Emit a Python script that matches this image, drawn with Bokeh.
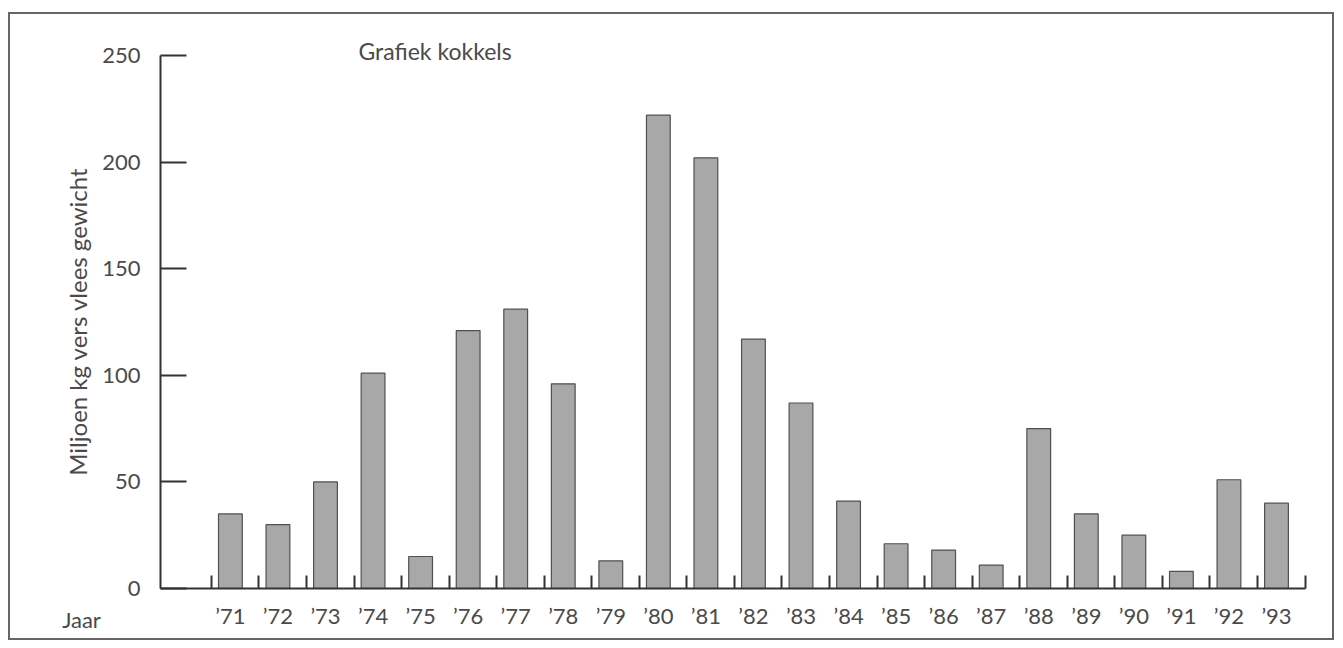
import math
from bokeh.plotting import figure
from bokeh.models import FixedTicker, Label, Range1d, ColumnDataSource
from bokeh.embed import file_html
from bokeh.resources import INLINE

years = ["’71", "’72", "’73", "’74", "’75", "’76", "’77", "’78", "’79", "’80", "’81", "’82",
         "’83", "’84", "’85", "’86", "’87", "’88", "’89", "’90", "’91", "’92", "’93"]
values = [35, 30, 50, 101, 15, 121, 131, 96, 13, 222, 202, 117, 87, 41, 21, 18, 11, 75, 35, 25, 8, 51, 40]
y_ticks = [0, 50, 100, 150, 200, 250]

FONT = "Lato"
TXT = "#4a4a4a"
LINE = "#333333"

# layout (pixel) constants
W, H = 1326, 628
ORG_X, ORG_Y = 10, 14          # canvas origin on page
AX_X, AX_Y = 160, 588          # page position of the axes corner
TOP_Y = 55                      # page y of value 250
SLOT = 47.55                    # px per category
X0 = -1.47                      # data x at the y axis
ppu = (AX_Y - TOP_Y) / y_ticks[-1]

x_start = X0 - (AX_X - ORG_X) / SLOT
x_end = x_start + W / SLOT
y_end = (AX_Y - ORG_Y) / ppu
y_start = -(ORG_Y + H - AX_Y) / ppu

def dx(px):
    return X0 + (px - AX_X) / SLOT

def dy(py):
    return (AX_Y - py) / ppu

xs = list(range(len(years)))
bounds = [x - 0.4 for x in xs] + [xs[-1] + 0.6]

src = ColumnDataSource(dict(x=xs, top=values))

p = figure(width=W, height=H, output_backend="svg", toolbar_location=None,
           x_range=Range1d(x_start, x_end), y_range=Range1d(y_start, y_end),
           min_border=0, min_border_left=0, min_border_right=0,
           min_border_top=0, min_border_bottom=0)
p.styles = {"border": "2px solid #666666", "margin-left": "8px", "margin-top": "12px"}
p.outline_line_color = None
p.xgrid.visible = False
p.ygrid.visible = False

p.vbar(x="x", top="top", bottom=0, width=0.5, source=src,
       fill_color="#a8a8a8", line_color="#505050", line_width=1.2)

# y axis
ya = p.yaxis[0]
ya.fixed_location = X0
ya.bounds = (y_ticks[0], y_ticks[-1])
ya.ticker = FixedTicker(ticks=y_ticks)
ya.major_tick_in = 26
ya.major_tick_out = 0
ya.minor_tick_in = 0
ya.minor_tick_out = 0
ya.major_tick_line_color = LINE
ya.major_tick_line_width = 2
ya.axis_line_color = LINE
ya.axis_line_width = 2
ya.major_label_standoff = 20
ya.major_label_text_font = FONT
ya.major_label_text_font_size = "22px"
ya.major_label_text_color = TXT

# x axis
xa = p.xaxis[0]
xa.fixed_location = 0
xa.bounds = (X0, bounds[-1])
xa.ticker = FixedTicker(ticks=xs, minor_ticks=bounds)
xa.major_label_overrides = {x: y for x, y in zip(xs, years)}
xa.major_tick_in = 0
xa.major_tick_out = 0
xa.minor_tick_in = 13
xa.minor_tick_out = 0
xa.minor_tick_line_color = LINE
xa.minor_tick_line_width = 2
xa.axis_line_color = LINE
xa.axis_line_width = 2
xa.major_label_standoff = 13
xa.major_label_text_font = FONT
xa.major_label_text_font_size = "22px"
xa.major_label_text_color = TXT

p.add_layout(Label(x=dx(77), y=dy(321), text="Miljoen kg vers vlees gewicht", angle=math.pi / 2,
                   text_font=FONT, text_font_size="24px", text_color=TXT,
                   text_align="center", text_baseline="middle"))
p.add_layout(Label(x=dx(81), y=dy(619), text="Jaar", text_font=FONT, text_font_size="22px",
                   text_color=TXT, text_align="center", text_baseline="middle"))
p.add_layout(Label(x=dx(358), y=dy(50), text="Grafiek kokkels", text_font=FONT, text_font_size="23px",
                   text_color=TXT, text_align="left", text_baseline="middle"))

open("out.html", "w").write(file_html(p, INLINE))
